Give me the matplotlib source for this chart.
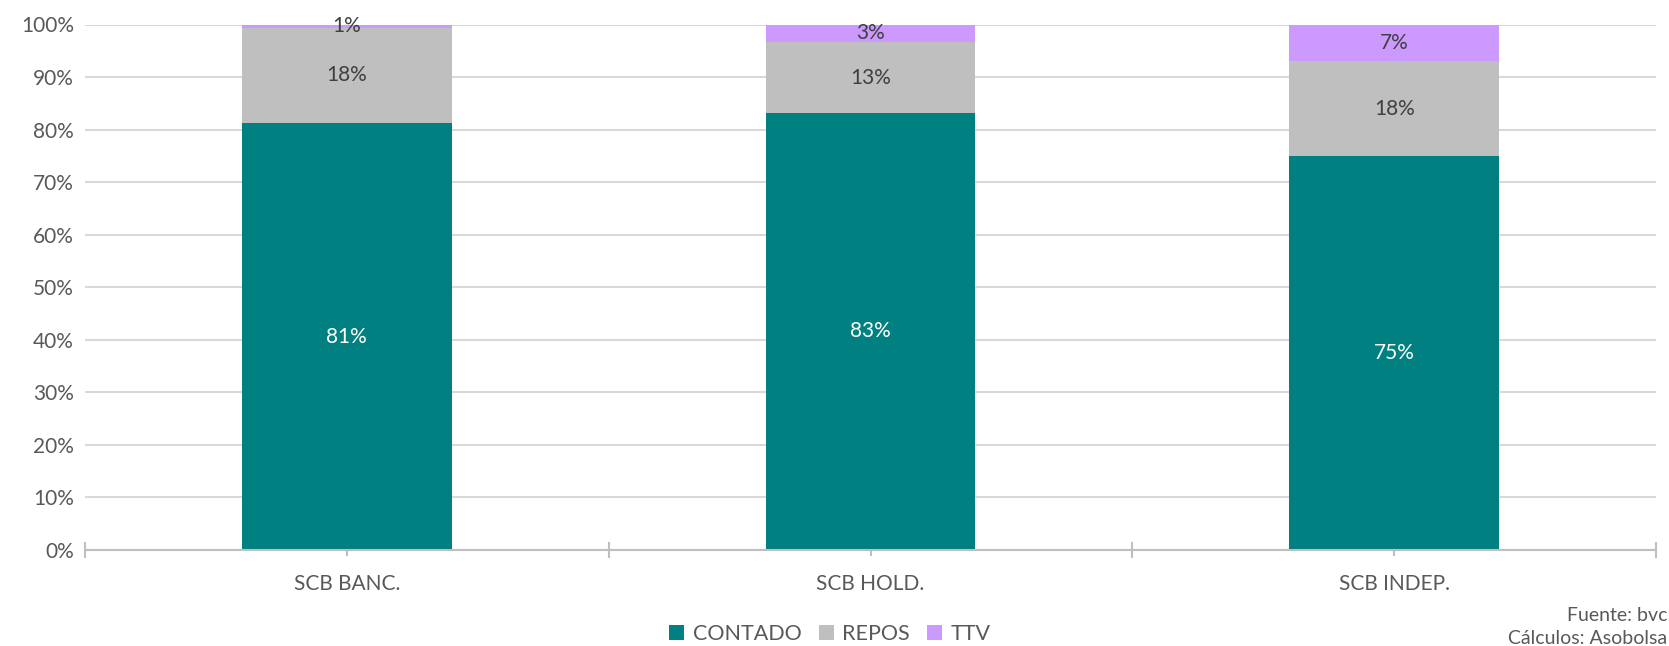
import matplotlib
matplotlib.use("Agg")
import matplotlib.pyplot as plt
from matplotlib.patches import Patch
import numpy as np

categories = ["SCB BANC.", "SCB HOLD.", "SCB INDEP."]
contado = [81.2, 83.2, 74.9]
repos = [18.2, 13.4, 18.2]
ttv = [0.6, 3.4, 6.9]
series_names = ["CONTADO", "REPOS", "TTV"]
y_ticks = [0, 10, 20, 30, 40, 50, 60, 70, 80, 90, 100]

colors = ["#008080", "#BFBFBF", "#CC99FF"]
label_colors = ["white", "#404040", "#404040"]

plt.rcParams['font.family'] = ['Lato', 'DejaVu Sans']

fig = plt.figure(figsize=(16.69, 6.46), dpi=100)
ax = fig.add_axes([85/1669, 96/646, (1656-85)/1669, (621.5-96)/646])

x = np.arange(len(categories))
bottom = np.zeros(len(categories))
for vals, col, lc in zip([contado, repos, ttv], colors, label_colors):
    vals = np.array(vals)
    ax.bar(x, vals, width=0.4, bottom=bottom, color=col, zorder=2)
    for xi, v, b in zip(x, vals, bottom):
        ax.text(xi, b + v / 2, f"{int(round(v))}%", ha="center", va="center",
                color=lc, fontsize=15, zorder=3)
    bottom = bottom + vals

ax.set_xlim(-0.5, 2.5)
ax.set_ylim(0, 100)
ax.set_yticks(y_ticks)
ax.set_yticklabels([f"{t}%" for t in y_ticks], fontsize=15, color="#595959")
ax.yaxis.grid(True, color="#D9D9D9", linewidth=1.5, zorder=0)
ax.set_axisbelow(True)

ax.set_xticks([-0.5, 0.5, 1.5, 2.5])
ax.set_xticklabels([])
ax.set_xticks(x, minor=True)
ax.set_xticklabels(categories, minor=True, fontsize=15, color="#595959")
ax.tick_params(axis="x", which="major", direction="inout", length=12, color="#BFBFBF", width=1.5)
ax.tick_params(axis="x", which="minor", direction="inout", length=9, color="#BFBFBF", width=1.5, pad=13)
ax.tick_params(axis="y", length=0, pad=8)

for s in ["top", "right", "left"]:
    ax.spines[s].set_visible(False)
ax.spines["bottom"].set_color("#BFBFBF")
ax.spines["bottom"].set_linewidth(1.5)
ax.spines["bottom"].set_zorder(4)

handles = [Patch(facecolor=c, edgecolor="none") for c in colors]
fig.legend(handles, series_names, loc="center", bbox_to_anchor=(830/1669, 12/646),
           ncol=3, frameon=False, fontsize=15.5, labelcolor="#595959",
           handlelength=0.7, handleheight=0.7, handletextpad=0.4, columnspacing=0.8)

fig.text(1667/1669, 39/646, "Fuente: bvc\nCálculos: Asobolsa", ha="right", va="top",
         fontsize=14, color="#595959", linespacing=1.45)

fig.savefig("out.png", dpi=100)
